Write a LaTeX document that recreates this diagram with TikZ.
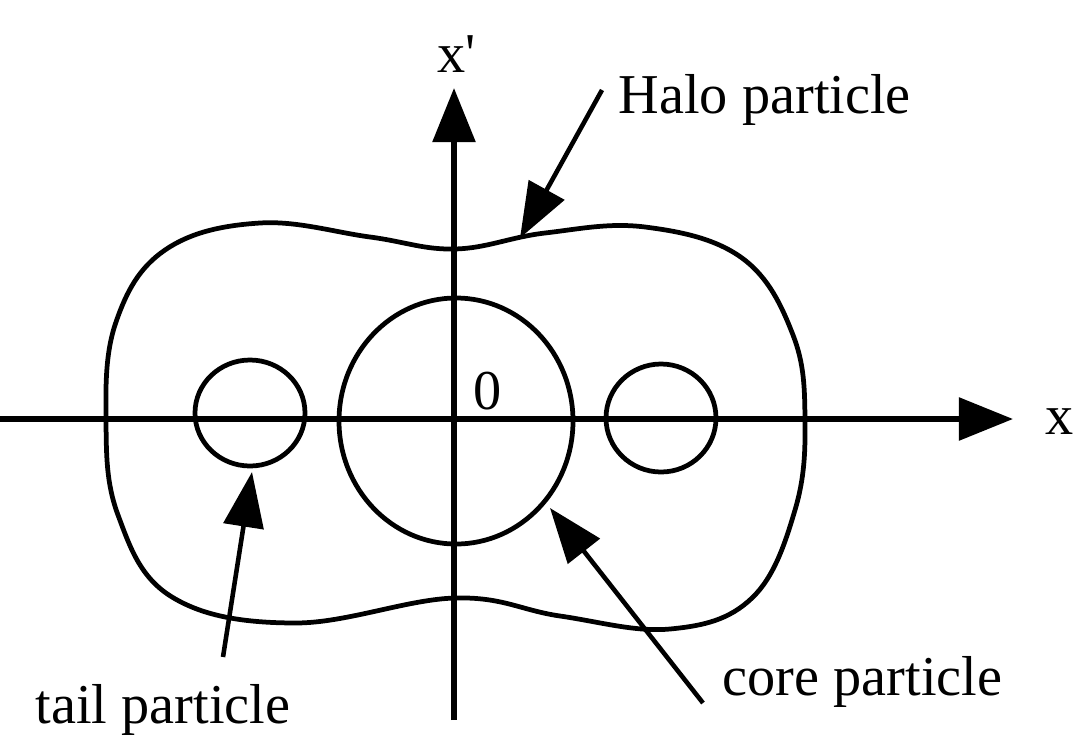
\documentclass[tikz,border=0pt]{standalone}
\usepackage{fontspec}
\setmainfont{Liberation Serif}
\usetikzlibrary{arrows.meta}

\begin{document}
\begin{tikzpicture}[x=0.01cm, y=-0.01cm,
  curve/.style={line width=1.35pt},
  axis/.style={line width=1.6pt, -{Triangle[length=5.4mm, width=4.2mm]}},
  pointer/.style={line width=1.3pt, -{Triangle[length=5.5mm, width=4mm]}},
  lbl/.style={font=\fontsize{16}{18}\selectfont, inner sep=0pt}
]
\useasboundingbox (0,0) rectangle (1082,751);

% axes
\coordinate (xstart) at (0,419);
\coordinate (xend) at (1013,419);
\coordinate (ystart) at (454,720);
\coordinate (yend) at (454,88);
\draw[axis] (xstart) -- (xend);
\draw[axis] (ystart) -- (yend);

\node[lbl, anchor=base] (xlab) at (1060,434) {x};
\node[lbl, anchor=base west] (xplab) at (437,72) {x\textquotesingle};
\node[lbl, anchor=base] (zero) at (488,409) {0};

% halo boundary
\draw[curve] plot[smooth cycle, tension=0.65] coordinates {
  (455,249) (545,233) (645,227) (742,258) (793,335) (805,420)
  (795,510) (752,598) (670,629) (560,616) (455,598) (295,623)
  (172,597) (118,515) (106,420) (116,322) (165,250) (260,223)
  (370,237)};

% core and tails
\draw[curve] (456,421) ellipse [x radius=117, y radius=123];
\draw[curve] (250,413) ellipse [x radius=55, y radius=53];
\draw[curve] (661,418) ellipse [x radius=55, y radius=54];

% labels with pointers
\node[lbl, anchor=base west] (halo) at (618,113) {Halo particle};
\node[lbl, anchor=base west] (core) at (722,695) {core particle};
\node[lbl, anchor=base west] (tail) at (35,723) {tail particle};

\coordinate (halofoot) at (602,90);
\coordinate (halotip) at (520,238);
\coordinate (corefoot) at (703,703);
\coordinate (coretip) at (550,508);
\coordinate (tailfoot) at (223,657);
\coordinate (tailtip) at (252,472);
\draw[pointer] (halofoot) -- (halotip);
\draw[pointer] (corefoot) -- (coretip);
\draw[pointer] (tailfoot) -- (tailtip);
\end{tikzpicture}
\end{document}
